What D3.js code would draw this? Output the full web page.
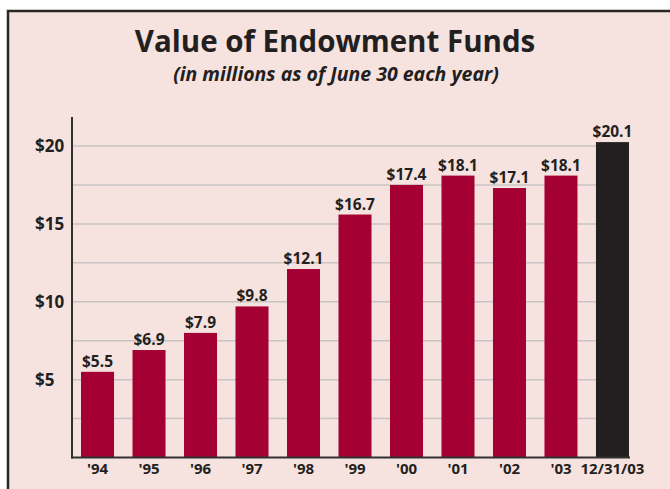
<!DOCTYPE html>
<html>
<head>
<meta charset="utf-8">
<script src="https://cdn.jsdelivr.net/npm/d3@7"></script>
<style>
  html, body { margin: 0; padding: 0; background: #ffffff; }
  svg { display: block; font-family: "Open Sans", Lato, sans-serif; }
  .title { font-size: 29.5px; font-weight: 700; fill: #231f20; }
  .subtitle { font-size: 19.5px; font-weight: 700; font-style: italic; fill: #231f20; }
  .value { font-size: 15.5px; font-weight: 700; fill: #231f20; }
  .xlabel { font-size: 15px; font-weight: 700; fill: #231f20; }
  .ylabel { font-size: 17px; font-weight: 700; fill: #231f20; }
</style>
</head>
<body>
<div id="chart"></div>
<script>
(function () {
  const years = ["'94", "'95", "'96", "'97", "'98", "'99", "'00", "'01", "'02", "'03", "12/31/03"];
  // bar heights as drawn in the picture (millions)
  const values = [5.5, 6.9, 8.0, 9.7, 12.1, 15.6, 17.5, 18.1, 17.3, 18.1, 20.25];
  // printed value labels
  const valueLabels = ["$5.5", "$6.9", "$7.9", "$9.8", "$12.1", "$16.7", "$17.4", "$18.1", "$17.1", "$18.1", "$20.1"];
  const yTicks = [5, 10, 15, 20];
  const yTickLabels = ["$5", "$10", "$15", "$20"];
  const gridValues = [2.5, 5, 7.5, 10, 12.5, 15, 17.5, 20];

  const width = 670;
  const height = 489;

  const svg = d3.select("#chart").append("svg")
    .attr("width", width)
    .attr("height", height);

  // panel
  svg.append("rect")
    .attr("x", 8)
    .attr("y", 11)
    .attr("width", width + 20)
    .attr("height", height + 20)
    .attr("fill", "#f6e2df")
    .attr("stroke", "#2b2727")
    .attr("stroke-width", 2.5);

  svg.append("text")
    .attr("class", "title")
    .attr("x", 335)
    .attr("y", 52)
    .attr("text-anchor", "middle")
    .text("Value of Endowment Funds");

  svg.append("text")
    .attr("class", "subtitle")
    .attr("x", 336)
    .attr("y", 81)
    .attr("text-anchor", "middle")
    .text("(in millions as of June 30 each year)");

  const x = d3.scaleBand()
    .domain(years)
    .range([71.75, 638.25])
    .paddingInner(0.359)
    .paddingOuter(0.18);

  const y = d3.scaleLinear()
    .domain([0, 20])
    .range([457.5, 146]);

  // gridlines
  svg.append("g")
    .selectAll("line")
    .data(gridValues)
    .join("line")
    .attr("x1", 72)
    .attr("x2", x(years[years.length - 1]))
    .attr("y1", d => y(d))
    .attr("y2", d => y(d))
    .attr("stroke", "#c9c4c4")
    .attr("stroke-width", 1.5);

  // bars
  svg.append("g")
    .selectAll("rect")
    .data(values)
    .join("rect")
    .attr("x", (d, i) => x(years[i]))
    .attr("y", d => y(d))
    .attr("width", x.bandwidth())
    .attr("height", d => y(0) - y(d))
    .attr("fill", (d, i) => i === values.length - 1 ? "#231f20" : "#a50034");

  svg.append("g")
    .selectAll("text")
    .data(values)
    .join("text")
    .attr("class", "value")
    .attr("x", (d, i) => x(years[i]) + x.bandwidth() / 2)
    .attr("y", d => y(d) - 5)
    .attr("text-anchor", "middle")
    .text((d, i) => valueLabels[i]);

  // axes
  svg.append("line")
    .attr("x1", 72).attr("x2", 72)
    .attr("y1", 117).attr("y2", y(0) + 1)
    .attr("stroke", "#333031")
    .attr("stroke-width", 2);

  svg.append("line")
    .attr("x1", 71).attr("x2", x(years[years.length - 1]) + x.bandwidth() + 1)
    .attr("y1", y(0)).attr("y2", y(0))
    .attr("stroke", "#333031")
    .attr("stroke-width", 2);

  svg.append("g")
    .selectAll("text")
    .data(years)
    .join("text")
    .attr("class", "xlabel")
    .attr("x", d => x(d) + x.bandwidth() / 2)
    .attr("y", 474)
    .attr("text-anchor", "middle")
    .text(d => d);

  svg.append("g")
    .selectAll("text")
    .data(yTicks)
    .join("text")
    .attr("class", "ylabel")
    .attr("x", 35)
    .attr("y", d => y(d) + 6)
    .text((d, i) => yTickLabels[i]);
})();
</script>
</body>
</html>
